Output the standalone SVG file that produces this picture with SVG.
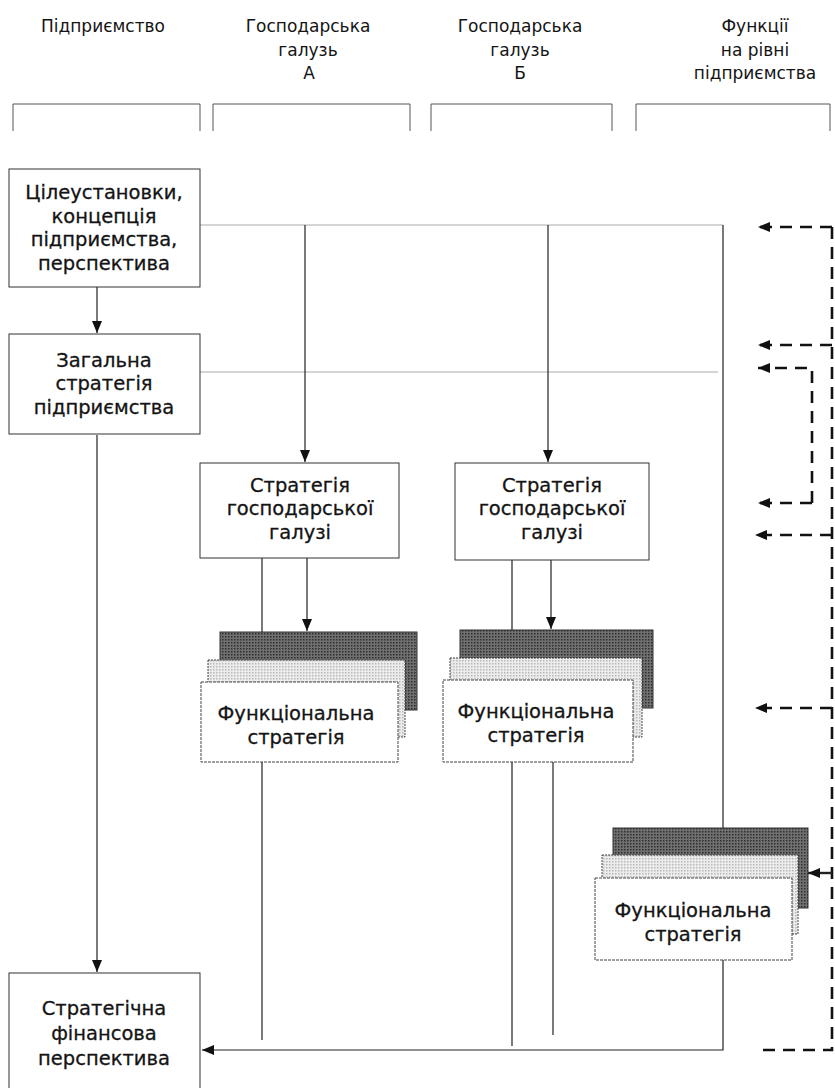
<svg xmlns="http://www.w3.org/2000/svg" width="835" height="1088" viewBox="0 0 835 1088">
<defs>
<style>
text{font-family:"DejaVu Sans","Noto Sans",sans-serif;fill:#141414;text-anchor:middle}
.h{font-size:17px}
.t{font-size:19.5px;stroke:#141414;stroke-width:0.3}
.box{fill:#fff;stroke:#333;stroke-width:1}
.front{fill:#fff;stroke:#444;stroke-width:1;stroke-dasharray:3 1}
.dk{fill:url(#pdk);stroke:#333;stroke-width:1}
.md{fill:url(#pmd);stroke:#444;stroke-width:1;stroke-dasharray:2 1}
.ln{fill:none;stroke:#222;stroke-width:1.2}
.faint{fill:none;stroke:#aaa;stroke-width:1}
.dash{fill:none;stroke:#111;stroke-width:2.6;stroke-dasharray:12 8}
.br{fill:none;stroke:#555;stroke-width:1}
</style>
<pattern id="pdk" width="3" height="3" patternUnits="userSpaceOnUse"><rect width="3" height="3" fill="#707070"/><rect width="1.5" height="1.5" fill="#2e2e2e"/></pattern>
<pattern id="pmd" width="3" height="3" patternUnits="userSpaceOnUse"><rect width="3" height="3" fill="#ececec"/><rect width="1.5" height="1.5" fill="#b8b8b8"/></pattern>
<marker id="ah" viewBox="0 0 12 10" refX="12" refY="5" markerWidth="12" markerHeight="10" markerUnits="userSpaceOnUse" orient="auto"><path d="M0,0 L12,5 L0,10 Z" fill="#111"/></marker>
</defs>
<rect width="835" height="1088" fill="#fff"/>

<g id="headers">
<text class="h" x="103" y="32">Підприємство</text>
<text class="h" x="308" y="32">Господарська</text>
<text class="h" x="308" y="56">галузь</text>
<text class="h" x="309" y="79">А</text>
<text class="h" x="520" y="32">Господарська</text>
<text class="h" x="520" y="56">галузь</text>
<text class="h" x="520" y="79">Б</text>
<text class="h" x="755" y="32">Функції</text>
<text class="h" x="755" y="56">на рівні</text>
<text class="h" x="755" y="79">підприємства</text>
<path class="br" d="M13,131 V104 H200 V131 M213,131 V104 H410 V131 M431,131 V104 H612 V131 M636,131 V104 H830 V131"/>
</g>

<g id="connectors">
<path class="faint" d="M200,225 H723"/>
<path class="faint" d="M200,372 H718"/>
<path class="ln" d="M97,287 V333" marker-end="url(#ah)"/>
<path class="ln" d="M97,435 V972" marker-end="url(#ah)"/>
<path class="ln" d="M305,225 V462" marker-end="url(#ah)"/>
<path class="ln" d="M548,225 V462" marker-end="url(#ah)"/>
<path class="ln" d="M723,225 V828"/>
<path class="ln" d="M262,558 V632 M262,762 V1040"/>
<path class="ln" d="M307,558 V631" marker-end="url(#ah)"/>
<path class="ln" d="M512,560 V630 M512,762 V1046"/>
<path class="ln" d="M551,560 V629" marker-end="url(#ah)"/>
<path class="ln" d="M553,762 V1035"/>
<path class="ln" d="M723,960 V1050 H202" marker-end="url(#ah)"/>
<path class="dash" d="M832,227 V1050 H758"/>
<path class="dash" d="M832,227 H758" marker-end="url(#ah)"/>
<path class="dash" d="M832,345 H758" marker-end="url(#ah)"/>
<path class="dash" d="M812,503 V368 H758" marker-end="url(#ah)"/>
<path class="dash" d="M812,503 H758" marker-end="url(#ah)"/>
<path class="dash" d="M832,535 H755" marker-end="url(#ah)"/>
<path class="dash" d="M832,708 H755" marker-end="url(#ah)"/>
<path class="ln" style="stroke-width:2.4" d="M832,873 H808" marker-end="url(#ah)"/>
</g>

<g id="n-goals">
<rect class="box" x="9" y="169" width="191" height="118"/>
<text class="t" x="104" y="199">Цілеустановки,</text>
<text class="t" x="104" y="223">концепція</text>
<text class="t" x="104" y="246">підприємства,</text>
<text class="t" x="104" y="270">перспектива</text>
</g>

<g id="n-general">
<rect class="box" x="9" y="334" width="191" height="100"/>
<text class="t" x="104" y="367">Загальна</text>
<text class="t" x="104" y="390">стратегія</text>
<text class="t" x="104" y="414">підприємства</text>
</g>

<g id="n-strat-a">
<rect class="box" x="200" y="463" width="199" height="95"/>
<text class="t" x="300" y="492">Стратегія</text>
<text class="t" x="300" y="515">господарської</text>
<text class="t" x="300" y="539">галузі</text>
</g>

<g id="n-strat-b">
<rect class="box" x="455" y="463" width="194" height="97"/>
<text class="t" x="552" y="492">Стратегія</text>
<text class="t" x="552" y="515">господарської</text>
<text class="t" x="552" y="539">галузі</text>
</g>

<g id="n-func-a">
<rect class="dk" x="220" y="632" width="197" height="78"/>
<rect class="md" x="208" y="660" width="197" height="77"/>
<rect class="front" x="201" y="682" width="197" height="80"/>
<text class="t" x="296" y="720">Функціональна</text>
<text class="t" x="296" y="744">стратегія</text>
</g>

<g id="n-func-b">
<rect class="dk" x="460" y="630" width="193" height="78"/>
<rect class="md" x="450" y="658" width="192" height="79"/>
<rect class="front" x="443" y="680" width="190" height="82"/>
<text class="t" x="536" y="718">Функціональна</text>
<text class="t" x="536" y="742">стратегія</text>
</g>

<g id="n-func-c">
<rect class="dk" x="613" y="828" width="195" height="80"/>
<rect class="md" x="602" y="855" width="196" height="79"/>
<rect class="front" x="595" y="878" width="197" height="82"/>
<text class="t" x="693" y="917">Функціональна</text>
<text class="t" x="693" y="941">стратегія</text>
</g>

<g id="n-finance">
<rect class="box" x="9" y="973" width="191" height="130"/>
<text class="t" x="104" y="1015">Стратегічна</text>
<text class="t" x="104" y="1040">фінансова</text>
<text class="t" x="104" y="1065">перспектива</text>
</g>
</svg>
